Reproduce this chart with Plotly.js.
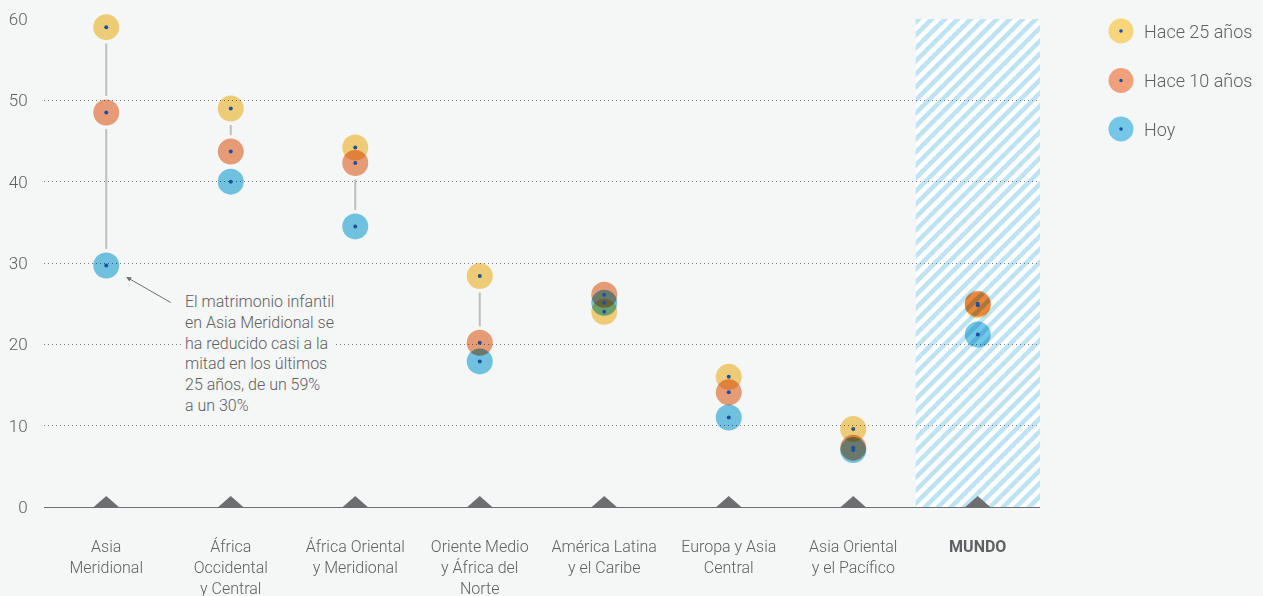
<!DOCTYPE html>
<html>
<head>
<meta charset="utf-8">
<script src="https://cdn.plot.ly/plotly-3.0.1.min.js"></script>
<style>
html,body{margin:0;padding:0;background:#F5F6F6;}
#chart{width:1263px;height:596px;}
.scatterlayer path.point{mix-blend-mode:multiply;}
.scatterlayer .trace:nth-child(n+5) path.point{mix-blend-mode:normal;}
</style>
</head>
<body>
<div id="chart"></div>
<script>
// ---- data ----
const categories = [
  'Asia<br>Meridional',
  'África<br>Occidental<br>y Central',
  'África Oriental<br>y Meridional',
  'Oriente Medio<br>y África del<br>Norte',
  'América Latina<br>y el Caribe',
  'Europa y Asia<br>Central',
  'Asia Oriental<br>y el Pacífico',
  '<b>MUNDO</b>'
];
const seriesNames = ['Hace 25 años', 'Hace 10 años', 'Hoy'];
const hace25 = [59.0, 49.0, 44.2, 28.4, 24.0, 16.0, 9.6, 24.8];
const hace10 = [48.5, 43.7, 42.3, 20.2, 26.1, 14.1, 7.3, 25.0];
const hoy    = [29.7, 40.0, 34.5, 17.9, 25.1, 11.0, 7.0, 21.2];
const yTicks = [0, 10, 20, 30, 40, 50, 60];
const noteText = 'El matrimonio infantil<br>en Asia Meridional se<br>ha reducido casi a la<br>mitad en los últimos<br>25 años, de un 59%<br>a un 30%';

// ---- layout constants ----
const W = 1263, H = 596;
const M = {l: 44, r: 223, t: 19, b: 89};
const plotW = W - M.l - M.r, plotH = H - M.t - M.b;
const yMax = yTicks[yTicks.length - 1];
const pxPerUnit = plotH / yMax;
const xIdx = categories.map((_, i) => i);
const series = [hace25, hace10, hoy];
const colors = ['#F8D47B', '#F0A17B', '#75C7E8'];
const dotColor = '#1F4FA3';
const bg = '#F5F6F6';
const textColor = '#5F6062';
const FONT = 'Roboto, "Liberation Sans", Arial, sans-serif';

// connector segments between consecutive markers (with small gap)
const gapU = 16.5 / pxPerUnit;
const lx = [], ly = [];
xIdx.forEach(i => {
  const vals = series.map(s => s[i]).sort((a, b) => b - a);
  for (let k = 0; k < vals.length - 1; k++) {
    const hi = vals[k] - gapU, lo = vals[k + 1] + gapU;
    if (hi - lo > 1 / pxPerUnit) { lx.push(i, i, null); ly.push(hi, lo, null); }
  }
});

const traces = [];
traces.push({type: 'scatter', mode: 'lines', x: lx, y: ly, hoverinfo: 'skip',
  line: {color: '#BEBEBE', width: 2}, showlegend: false, cliponaxis: false});
series.forEach((s, k) => {
  traces.push({type: 'scatter', mode: 'markers', name: seriesNames[k], x: xIdx, y: s,
    marker: {size: 26, color: colors[k], line: {width: 0}}, showlegend: false, cliponaxis: false});
});
series.forEach((s, k) => {
  traces.push({type: 'scatter', mode: 'markers', name: seriesNames[k], x: xIdx, y: s, hoverinfo: 'skip',
    marker: {size: 4, color: dotColor, line: {width: 0}}, showlegend: false, cliponaxis: false});
});

// hatched highlight for the last category
const hatchW = plotW / categories.length, hatchH = plotH;
const svg = `<svg xmlns="http://www.w3.org/2000/svg" width="${hatchW}" height="${hatchH}" viewBox="0 0 ${hatchW} ${hatchH}" preserveAspectRatio="none"><defs><pattern id="p" width="9.2" height="9.2" patternUnits="userSpaceOnUse" patternTransform="rotate(45)"><rect width="9.2" height="9.2" fill="#FFFFFF"/><rect width="4.6" height="9.2" fill="#BEE4F4"/></pattern></defs><rect width="${hatchW}" height="${hatchH}" fill="url(#p)"/></svg>`;
const last = categories.length - 1;

const px2paperX = px => (px - M.l) / plotW;
const px2paperY = py => (H - M.b - py) / plotH;

const shapes = [];
xIdx.forEach(i => {
  shapes.push({type: 'path', xref: 'x', yref: 'y', xsizemode: 'pixel', ysizemode: 'pixel',
    xanchor: i, yanchor: 0, path: 'M-12.5,0 L0,11 L12.5,0 Z',
    fillcolor: '#6D6E71', line: {width: 0}, layer: 'above'});
});
const annotations = [];
const legendY = [31, 80.5, 129];
seriesNames.forEach((n, k) => {
  const ax = px2paperX(1121), ay = px2paperY(legendY[k]);
  shapes.push({type: 'circle', xref: 'paper', yref: 'paper', xsizemode: 'pixel', ysizemode: 'pixel',
    xanchor: ax, yanchor: ay, x0: -12.5, x1: 12.5, y0: -12.5, y1: 12.5,
    fillcolor: colors[k], line: {width: 0}});
  shapes.push({type: 'circle', xref: 'paper', yref: 'paper', xsizemode: 'pixel', ysizemode: 'pixel',
    xanchor: ax, yanchor: ay, x0: -1.8, x1: 1.8, y0: -1.8, y1: 1.8,
    fillcolor: dotColor, line: {width: 0}});
  annotations.push({xref: 'paper', yref: 'paper', x: px2paperX(1142), y: ay, xanchor: 'left', yanchor: 'middle',
    text: n, showarrow: false, font: {family: FONT, size: 18, weight: 300, color: textColor}});
});

annotations.push({xref: 'paper', yref: 'paper', x: px2paperX(183), y: px2paperY(290),
  xanchor: 'left', yanchor: 'top', align: 'left', text: noteText, showarrow: false,
  bgcolor: bg, borderpad: 1, font: {family: FONT, size: 16, weight: 300, color: textColor}});
annotations.push({xref: 'x', yref: 'y', x: 0, y: hoy[0], text: '', showarrow: true,
  ax: 66, ay: 38, standoff: 23, arrowhead: 2, arrowsize: 1, arrowwidth: 1, arrowcolor: '#6D6E71'});

const layout = {
  width: W, height: H, margin: M,
  paper_bgcolor: bg, plot_bgcolor: bg,
  showlegend: false,
  font: {family: FONT, color: textColor},
  xaxis: {type: 'linear', range: [-0.5, categories.length - 0.5], tickvals: xIdx, ticktext: categories,
    showgrid: false, zeroline: false, showline: true, linecolor: '#6D6E71', linewidth: 1,
    ticks: 'outside', ticklen: 25, tickcolor: 'rgba(0,0,0,0)',
    tickfont: {family: FONT, size: 16, weight: 300, color: textColor}, fixedrange: true},
  yaxis: {range: [0, yMax], tickvals: yTicks, showgrid: true, gridcolor: '#7A7A7A', griddash: '1px,3px', gridwidth: 1,
    zeroline: false, showline: false, ticks: 'outside', ticklen: 12, tickcolor: 'rgba(0,0,0,0)',
    tickfont: {family: FONT, size: 17, weight: 300, color: textColor}, fixedrange: true},
  images: [{source: 'data:image/svg+xml;charset=utf-8,' + encodeURIComponent(svg),
    xref: 'x', yref: 'y', x: last - 0.5, y: yMax, sizex: 1, sizey: yMax,
    xanchor: 'left', yanchor: 'top', sizing: 'stretch', layer: 'below'}],
  shapes: shapes,
  annotations: annotations
};

Plotly.newPlot('chart', traces, layout, {displayModeBar: false, staticPlot: true});
</script>
</body>
</html>
